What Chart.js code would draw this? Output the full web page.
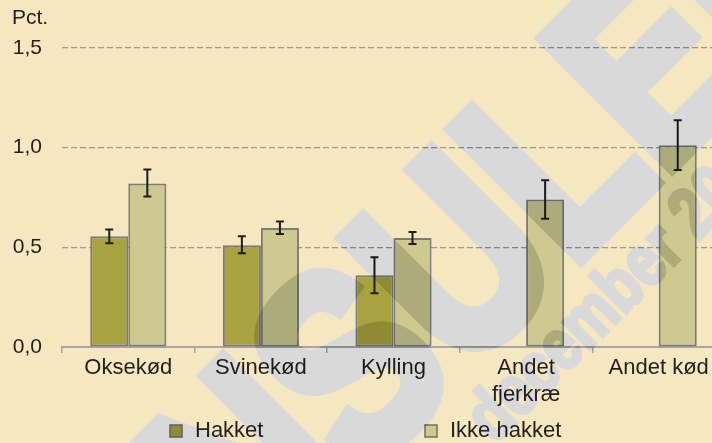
<!DOCTYPE html>
<html><head><meta charset="utf-8">
<script src="https://cdn.jsdelivr.net/npm/chart.js@4"></script>
<style>
html,body{margin:0;padding:0;background:#f5e8c1;overflow:hidden;width:712px;height:443px}
#wrap{position:relative;width:725px;height:443px}
canvas{display:block}
</style></head>
<body><div id="wrap"><canvas id="c" width="725" height="443"></canvas></div>
<script>
const categories = ["Oksekød", "Svinekød", "Kylling", ["Andet", "fjerkræ"], "Andet kød"];
const seriesNames = ["Hakket", "Ikke hakket"];
const hakket = [0.555, 0.51, 0.36, null, null];
const hakketLow = [0.52, 0.47, 0.27, null, null];
const hakketHigh = [0.59, 0.555, 0.45, null, null];
const ikkeHakket = [0.82, 0.597, 0.547, 0.74, 1.012];
const ikkeLow = [0.755, 0.567, 0.517, 0.643, 0.888];
const ikkeHigh = [0.89, 0.63, 0.577, 0.837, 1.138];
const yTicks = [0, 0.5, 1.0, 1.5];
const unitLabel = "Pct.";
const watermarkWord = "KONSULENT";
const watermarkDate = "december 2016";

const FONT = "'Liberation Sans', Arial, sans-serif";
const TEXT = '#231f20';
const colors = ['#a8a33e', '#cdc98f'];
const errors = [[hakketLow, hakketHigh], [ikkeLow, ikkeHigh]];

const errPlugin = {
  id: 'errbars',
  afterDatasetsDraw(chart) {
    const ctx = chart.ctx, ys = chart.scales.y;
    chart.data.datasets.forEach((ds, i) => {
      const meta = chart.getDatasetMeta(i);
      meta.data.forEach((bar, j) => {
        if (ds.data[j] == null) return;
        const x = bar.x;
        const y1 = ys.getPixelForValue(errors[i][0][j]);
        const y2 = ys.getPixelForValue(errors[i][1][j]);
        ctx.save();
        ctx.strokeStyle = '#1e1e1e';
        ctx.lineWidth = 2;
        ctx.beginPath();
        ctx.moveTo(x, y1); ctx.lineTo(x, y2);
        ctx.moveTo(x - 4, y1); ctx.lineTo(x + 4, y1);
        ctx.moveTo(x - 4, y2); ctx.lineTo(x + 4, y2);
        ctx.stroke();
        ctx.restore();
      });
    });
  }
};

const decoPlugin = {
  id: 'deco',
  afterDraw(chart) {
    const ctx = chart.ctx;
    ctx.save();
    ctx.fillStyle = TEXT;
    ctx.font = `21px ${FONT}`;
    ctx.textBaseline = 'middle';
    ctx.textAlign = 'left';
    ctx.fillText(unitLabel, 12, 18);
    // legend
    const items = [{x: 170}, {x: 425}];
    ctx.font = `22px ${FONT}`;
    chart.data.datasets.forEach((ds, i) => {
      const lx = items[i].x;
      ctx.fillStyle = colors[i];
      ctx.fillRect(lx, 425, 12, 12);
      ctx.strokeStyle = '#6f6f6f';
      ctx.lineWidth = 1.5;
      ctx.strokeRect(lx, 425, 12, 12);
      ctx.fillStyle = TEXT;
      ctx.textBaseline = 'alphabetic';
      ctx.fillText(ds.label, lx + 25, 437);
    });
    ctx.restore();
    // watermark (multiply overlay)
    const W = chart.width, H = chart.height;
    const off = document.createElement('canvas');
    off.width = W; off.height = H;
    const o = off.getContext('2d');
    o.fillStyle = o.strokeStyle = '#d9d9d9';
    o.lineJoin = 'miter';
    o.miterLimit = 3;
    o.save();
    o.rotate(-Math.PI / 4);
    o.save();
    o.scale(0.8, 1);
    o.font = `bold 264px ${FONT}`;
    o.textBaseline = 'alphabetic';
    const pre = o.measureText('KONS').width;
    const x0 = 75 / 0.8 - pre - 18;
    o.lineWidth = 15;
    o.fillText(watermarkWord, x0, 593);
    o.strokeText(watermarkWord, x0, 593);
    o.restore();
    o.save();
    o.scale(0.8, 1);
    o.font = `bold 72px ${FONT}`;
    o.lineWidth = 4;
    o.fillText(watermarkDate, 35 / 0.8, 664);
    o.strokeText(watermarkDate, 35 / 0.8, 664);
    o.restore();
    o.restore();
    ctx.save();
    ctx.globalCompositeOperation = 'multiply';
    ctx.drawImage(off, 0, 0);
    ctx.restore();
  }
};

new Chart(document.getElementById('c'), {
  type: 'bar',
  data: {
    labels: categories,
    datasets: [
      {label: seriesNames[0], data: hakket, backgroundColor: colors[0], borderColor: '#7b7b78', borderWidth: 2, borderSkipped: false},
      {label: seriesNames[1], data: ikkeHakket, backgroundColor: colors[1], borderColor: '#7b7b78', borderWidth: 2, borderSkipped: false}
    ]
  },
  options: {
    responsive: false,
    animation: false,
    devicePixelRatio: 1,
    layout: {padding: {top: 48, left: 0, right: 0, bottom: 0}},
    datasets: {bar: {categoryPercentage: 0.574, barPercentage: 1}},
    plugins: {legend: {display: false}, tooltip: {enabled: false}},
    scales: {
      x: {
        grid: {offset: true, drawOnChartArea: false, drawTicks: true, tickLength: 6, color: '#a6a6a6', lineWidth: 1.5},
        border: {color: '#a6a6a6', width: 2},
        ticks: {font: {family: FONT, size: 22, lineHeight: 1.24}, color: TEXT, padding: 1, maxRotation: 0, autoSkip: false},
        afterFit: s => { s.height = 96; }
      },
      y: {
        min: 0, max: 1.5,
        afterBuildTicks: s => { s.ticks = yTicks.map(v => ({value: v})); },
        ticks: {callback: v => Number(v).toFixed(1).replace('.', ','), font: {family: FONT, size: 21}, color: TEXT, padding: 20},
        grid: {drawTicks: false, lineWidth: 1.2, color: c => (c.tick && c.tick.value === 0) ? 'rgba(0,0,0,0)' : '#999999'},
        border: {display: false, dash: [6, 3]},
        afterFit: s => { s.width = 62; }
      }
    }
  },
  plugins: [errPlugin, decoPlugin]
});
</script>
</body></html>
